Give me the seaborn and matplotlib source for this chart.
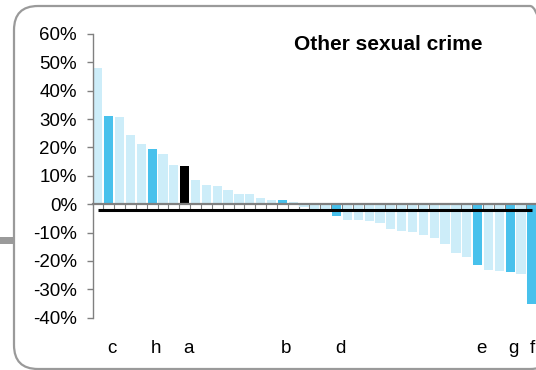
import matplotlib
matplotlib.use("Agg")
import matplotlib.pyplot as plt
import matplotlib.transforms as mtransforms
from matplotlib.patches import FancyBboxPatch, Rectangle
import seaborn as sns
import pandas as pd

# ---- data ----
values = [48.1, 31.2, 30.8, 24.5, 21.3, 19.6, 17.8, 13.9, 13.6, 8.7,
          6.8, 6.4, 5.0, 3.7, 3.7, 2.2, 1.5, 1.5, 0.8, -0.9,
          -1.6, -1.6, -4.1, -5.5, -5.5, -5.9, -6.6, -8.7, -9.4, -9.8,
          -10.8, -11.9, -14.0, -17.2, -18.6, -21.4, -23.2, -23.5, -23.9, -24.6,
          -35.1]
labels = ["", "c", "", "", "", "h", "", "", "a", "",
          "", "", "", "", "", "", "", "b", "", "",
          "", "", "d", "", "", "", "", "", "", "",
          "", "", "", "", "", "e", "", "", "g", "",
          "f"]
group = ["base", "hi", "base", "base", "base", "hi", "base", "base", "own", "base",
         "base", "base", "base", "base", "base", "base", "base", "hi", "base", "base",
         "base", "base", "hi", "base", "base", "base", "base", "base", "base", "base",
         "base", "base", "base", "base", "base", "hi", "base", "base", "hi", "base",
         "hi"]
average = -2.0
yticks = [60, 50, 40, 30, 20, 10, 0, -10, -20, -30, -40]
ytick_labels = ["60%", "50%", "40%", "30%", "20%", "10%", "0%",
                "-10%", "-20%", "-30%", "-40%"]
title = "Other sexual crime"

colors = {"base": "#CDEDF9", "hi": "#48C1EC", "own": "#000000"}

ids = [str(i) for i in range(len(values))]
df = pd.DataFrame({"id": ids, "value": values, "group": group})
palette = {i: colors[g] for i, g in zip(ids, group)}

sns.set_theme(style="white")
plt.rcParams["font.family"] = ["Liberation Sans", "DejaVu Sans"]

W, H = 536, 370
fig = plt.figure(figsize=(W / 100, H / 100), dpi=100)
fig.patch.set_facecolor("white")

# axes placement (pixels)
left_px, top_px, bot_px = 93, 34, 317.7
pitch = 10.85
xmin, xmax = -0.45, 40.6
width_px = (xmax - xmin) * pitch
ax = fig.add_axes([left_px / W, (H - bot_px) / H, width_px / W, (bot_px - top_px) / H])
ax.set_facecolor("none")

sns.barplot(data=df, x="id", y="value", hue="id", palette=palette,
            legend=False, width=0.85, saturation=1, linewidth=0, ax=ax)

ax.set_xlim(xmin, xmax)
ax.set_ylim(-40, 60)

# spines
for s in ["top", "right"]:
    ax.spines[s].set_visible(False)
ax.spines["left"].set_color("#808080")
ax.spines["left"].set_linewidth(1.0)
ax.spines["bottom"].set_position(("data", 0))
ax.spines["bottom"].set_color("#808080")
ax.spines["bottom"].set_linewidth(1.6)
ax.spines["bottom"].set_zorder(5)

# y ticks
ax.set_yticks(yticks, ytick_labels)
ax.tick_params(axis="y", left=True, length=4.5, width=1.0, color="#808080", pad=7,
               labelsize=13.5, labelcolor="black", direction="out")

# x: minor ticks at boundaries, labels at chosen categories
n = len(values)
ax.set_xticks([i + 0.5 for i in range(n - 1)], minor=True)
lab_pos = [i for i, l in enumerate(labels) if l]
ax.set_xticks(lab_pos, [labels[i] for i in lab_pos])
ax.tick_params(axis="x", which="major", bottom=True, length=0, pad=98,
               labelsize=13.5, labelcolor="black")
ax.tick_params(axis="x", which="minor", bottom=True, length=3.5, width=0.8,
               color="#808080", direction="out")
for t, p in zip(ax.get_xticklabels(), lab_pos):
    dx = 3.5 if p < n - 1 else 0.0
    off = mtransforms.ScaledTranslation(dx / 100, 0, fig.dpi_scale_trans)
    t.set_transform(t.get_transform() + off)
ax.set_xlabel("")
ax.set_ylabel("")

# average line
ax.hlines(average, 0, n - 1, color="black", linewidth=2.2, zorder=6)

# title
fig.text(388 / W, (H - 44) / H, title, ha="center", va="center",
         fontsize=15, fontweight="bold", color="black")

# rounded frame and left stub (pixel coords)
ident = mtransforms.IdentityTransform()
frame = FancyBboxPatch((14, 1), 540, H - 7, boxstyle="round,pad=0,rounding_size=24",
                       transform=ident, facecolor="none", edgecolor="#9a9a9a",
                       linewidth=1.6, zorder=0)
fig.patches.append(frame)
stub = Rectangle((0, H - 244), 14, 7, transform=ident, facecolor="#9a9a9a",
                 edgecolor="none")
fig.patches.append(stub)

fig.savefig("out.png", dpi=100)
